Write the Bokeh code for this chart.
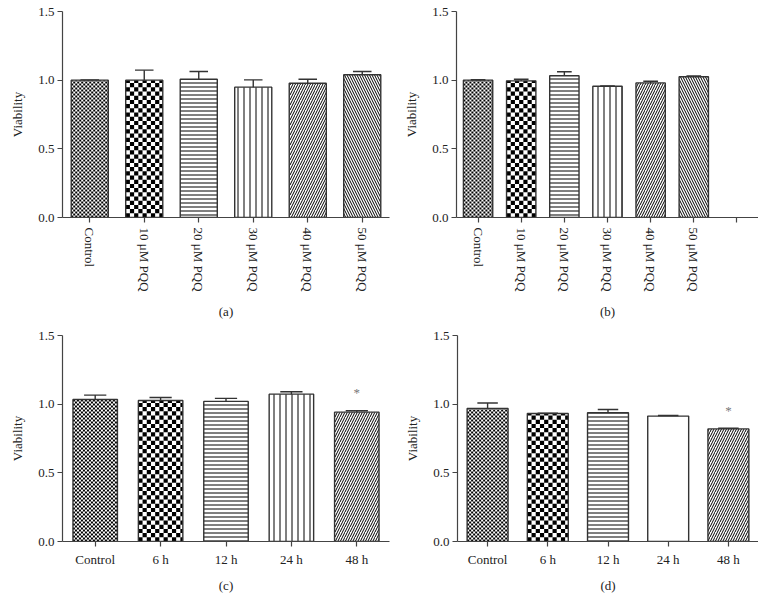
import math
import numpy as np
from bokeh.plotting import figure
from bokeh.layouts import column, row
from bokeh.models import (ColumnDataSource, FixedTicker, NumeralTickFormatter,
                          Range1d)
from bokeh.core.properties import value
from bokeh.embed import file_html
from bokeh.resources import INLINE

# ---------------- data ----------------
dose_labels = ["Control", "10 μM PQQ", "20 μM PQQ", "30 μM PQQ", "40 μM PQQ", "50 μM PQQ"]
time_labels = ["Control", "6 h", "12 h", "24 h", "48 h"]

viab_a = [1.000, 1.000, 1.007, 0.949, 0.978, 1.039]
err_a = [0.002, 0.073, 0.056, 0.053, 0.029, 0.024]

viab_b = [1.000, 0.995, 1.032, 0.956, 0.980, 1.025]
err_b = [0.003, 0.012, 0.029, 0.002, 0.012, 0.005]

viab_c = [1.034, 1.027, 1.020, 1.073, 0.942]
err_c = [0.032, 0.022, 0.022, 0.017, 0.010]

viab_d = [0.969, 0.932, 0.937, 0.913, 0.820]
err_d = [0.039, 0.003, 0.024, 0.004, 0.005]

signif_c = ["", "", "", "", "*"]
signif_d = ["", "", "", "", "*"]

y_ticks = [0.0, 0.5, 1.0, 1.5]

# ---------------- styles ----------------
FONT = "Liberation Serif"
# name -> (bokeh hatch pattern, hatch scale, checker cell size in px)
STYLE = {
    "fine": (" ", 6, 2.0),
    "coarse": (" ", 6, 4.2),
    "hline": ("-", 4, None),
    "vline": ("|", 6, None),
    "rdiag": ("/", 5, None),
    "ldiag": ("\\", 5, None),
    "blank": (" ", 6, None),
}
styles_ab = ["fine", "coarse", "hline", "vline", "rdiag", "ldiag"]
styles_c = ["fine", "coarse", "hline", "vline", "rdiag"]
styles_d = ["fine", "coarse", "hline", "blank", "rdiag"]

BAR_W = 0.68
AX = "#444444"
EDGE = "#333333"


def checker_cells(xc, top, cell_px, ppu_x, ppu_y):
    dx = cell_px / ppu_x
    dy = cell_px / ppu_y
    left0 = xc - BAR_W / 2
    right0 = xc + BAR_W / 2
    nx = int(math.ceil(BAR_W / dx))
    ny = int(math.ceil(top / dy))
    L, R, B, T = [], [], [], []
    for i in range(nx):
        for j in range(ny):
            if (i + j) % 2:
                continue
            l = left0 + i * dx
            b = j * dy
            L.append(l)
            R.append(min(l + dx, right0))
            B.append(b)
            T.append(min(b + dy, top))
    return L, R, B, T


def make_panel(labels, n_slots, vals, errs, styles, tag, width, height,
               mbl, mbr, mbt, mbb, rotate, label_standoff, signif=None):
    n = len(vals)
    x = np.arange(n)
    top = np.array(vals)
    upper = top + np.array(errs)
    src = ColumnDataSource(dict(
        x=x, top=top, upper=upper,
        xl=x - BAR_W / 4, xr=x + BAR_W / 4,
        pattern=[STYLE[s][0] for s in styles],
        scale=[STYLE[s][1] for s in styles],
    ))
    p = figure(width=width, height=height,
               x_range=Range1d(-0.5, n_slots - 0.5), y_range=Range1d(0, 1.5),
               output_backend="svg", toolbar_location=None,
               min_border_left=mbl, min_border_right=mbr,
               min_border_top=mbt, min_border_bottom=mbb)
    p.outline_line_color = None
    p.grid.visible = False
    p.background_fill_color = "white"
    p.border_fill_color = "white"

    frame_w = width - mbl - mbr
    frame_h = height - mbt - mbb
    ppu_x = frame_w / n_slots
    ppu_y = frame_h / 1.5

    # bars with line hatches
    p.vbar(x="x", top="top", width=BAR_W, source=src,
           fill_color="white", line_color=None,
           hatch_pattern="pattern", hatch_scale="scale",
           hatch_color="black", hatch_weight=1)

    # checkerboard fills
    cl, cr, cb, ct = [], [], [], []
    for i, s in enumerate(styles):
        cell = STYLE[s][2]
        if cell is None:
            continue
        L, R, B, T = checker_cells(i, vals[i], cell, ppu_x, ppu_y)
        cl += L; cr += R; cb += B; ct += T
    if cl:
        p.quad(left=cl, right=cr, bottom=cb, top=ct,
               fill_color="black", line_color=None)

    # bar outlines
    p.vbar(x="x", top="top", width=BAR_W, source=src,
           fill_color=None, line_color=EDGE, line_width=1.4)

    # error bars (upper only)
    p.segment(x0="x", y0="top", x1="x", y1="upper", source=src,
              line_color=EDGE, line_width=1.4)
    p.segment(x0="xl", y0="upper", x1="xr", y1="upper", source=src,
              line_color=EDGE, line_width=1.4)

    if signif is not None:
        sx = [i for i, s in enumerate(signif) if s]
        sy = [upper[i] + 0.13 for i in sx]
        st = [signif[i] for i in sx]
        p.text(x=sx, y=sy, text=st, text_font=value(FONT), text_font_size="13px",
               text_color="#777777", text_align="center", text_baseline="middle")

    for ax in (p.xaxis[0], p.yaxis[0]):
        ax.axis_line_color = AX
        ax.axis_line_width = 1.2
        ax.major_tick_line_color = AX
        ax.major_tick_line_width = 1.2
        ax.major_tick_out = 5
        ax.major_tick_in = 0
        ax.minor_tick_line_color = None
        ax.major_label_text_font = FONT
        ax.major_label_text_font_size = "13px"
        ax.major_label_text_color = "#222222"
        ax.major_label_standoff = 3
        ax.axis_label_text_font = FONT
        ax.axis_label_text_font_size = "13px"
        ax.axis_label_text_font_style = "normal"
        ax.axis_label_text_color = "#222222"

    p.yaxis.ticker = FixedTicker(ticks=y_ticks)
    p.yaxis.formatter = NumeralTickFormatter(format="0.0")
    p.yaxis.axis_label = "Viability"
    p.yaxis.axis_label_standoff = 10

    p.xaxis.ticker = FixedTicker(ticks=list(range(n_slots)))
    overrides = {i: (labels[i] if i < len(labels) else "") for i in range(n_slots)}
    p.xaxis.major_label_overrides = overrides
    p.xaxis.axis_label = tag
    p.xaxis.major_label_standoff = 5
    p.xaxis.axis_label_standoff = label_standoff
    if rotate:
        p.xaxis.major_label_orientation = "vertical"
    return p


pa = make_panel(dose_labels, 6, viab_a, err_a, styles_ab, "(a)",
                390, 322, 62, 1, 11, 105, True, 9)
pb = make_panel(dose_labels, 7, viab_b, err_b, styles_ab, "(b)",
                368, 322, 66, 0, 11, 105, True, 9)
pc = make_panel(time_labels, 5, viab_c, err_c, styles_c, "(c)",
                390, 273, 62, 1, 13, 54, False, 8, signif_c)
pd = make_panel(time_labels, 5, viab_d, err_d, styles_d, "(d)",
                368, 273, 67, 0, 13, 54, False, 8, signif_d)

layout = column(row(pa, pb), row(pc, pd))
open("out.html", "w").write(file_html(layout, INLINE))
